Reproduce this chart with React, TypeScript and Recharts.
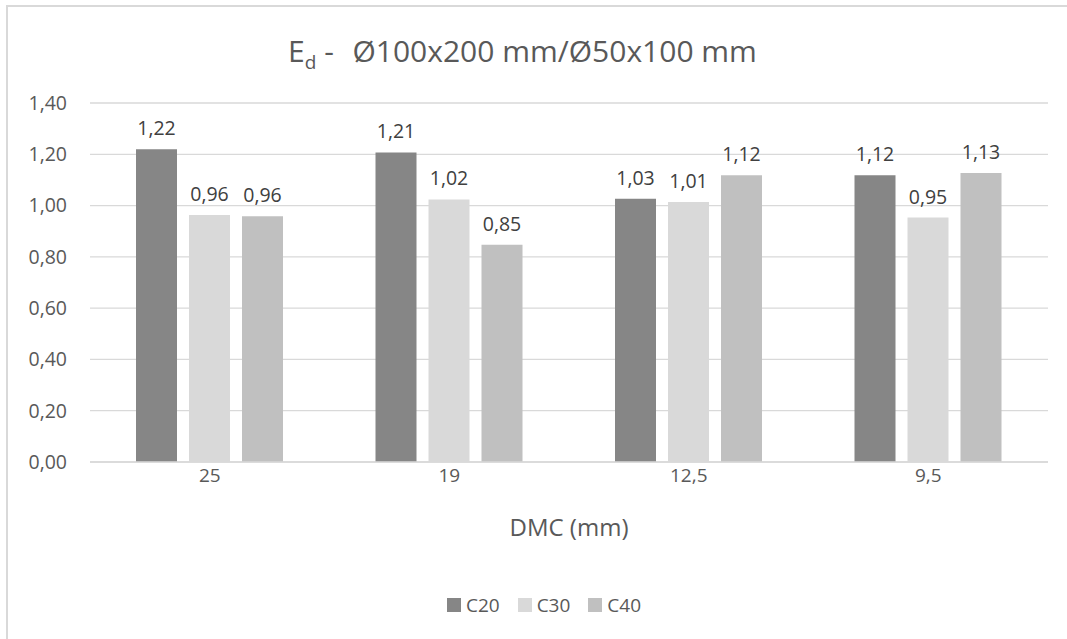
import { BarChart, Bar, XAxis, YAxis, CartesianGrid, Legend, LabelList } from 'recharts';

const categories = ['25', '19', '12,5', '9,5'];
const c20 = [1.22, 1.207, 1.027, 1.118];
const c30 = [0.963, 1.024, 1.014, 0.953];
const c40 = [0.958, 0.847, 1.118, 1.127];
const yTicks = [0, 0.2, 0.4, 0.6, 0.8, 1.0, 1.2, 1.4];

const series = [
  { key: 'C20', values: c20, color: '#868686' },
  { key: 'C30', values: c30, color: '#d9d9d9' },
  { key: 'C40', values: c40, color: '#c0c0c0' },
];

const data = categories.map((cat, i) => ({
  cat,
  C20: c20[i],
  C30: c30[i],
  C40: c40[i],
}));

const FONT = '"Open Sans", "Noto Sans", sans-serif';
const fmt = (v: any) => Number(v).toFixed(2).replace('.', ',');

const LegendContent = () => (
  <div
    style={{
      display: 'flex', justifyContent: 'center', paddingLeft: 40,
      fontFamily: FONT, fontSize: 19, lineHeight: '24px', color: '#595959',
    }}
  >
    {series.map((s) => (
      <div key={s.key} style={{ display: 'flex', alignItems: 'center', margin: '0 9px' }}>
        <span style={{ width: 14, height: 14, background: s.color, marginRight: 5, display: 'inline-block' }} />
        <span>{s.key}</span>
      </div>
    ))}
  </div>
);

export default function App() {
  return (
    <div style={{ position: 'fixed', left: 0, top: 0, width: 1067, height: 639, background: '#fff', overflow: 'hidden' }}>
      {/* chart frame: only the top and left edges are visible */}
      <div style={{ position: 'absolute', left: 6, top: 5, width: 1061, height: 2, background: '#d9d9d9' }} />
      <div style={{ position: 'absolute', left: 6, top: 5, width: 2, height: 634, background: '#d9d9d9' }} />
      <div
        style={{
          position: 'absolute', left: 0, top: 30, width: 1045, textAlign: 'center',
          fontFamily: FONT, fontSize: 30, color: '#595959', lineHeight: '42px',
        }}
      >
        E<sub style={{ fontSize: 19, verticalAlign: -7 }}>d</sub> -&nbsp;{' '}
        <span style={{ marginLeft: 3 }}>Ø100x200 mm/Ø50x100 mm</span>
      </div>
      <div style={{ position: 'absolute', left: 0, top: 0 }}>
        <BarChart
          width={1067}
          height={639}
          data={data}
          margin={{ top: 103, right: 19, bottom: 22, left: 0 }}
          barCategoryGap={46}
          barGap={12}
        >
          <CartesianGrid vertical={false} stroke="#d9d9d9" strokeWidth={1.3} />
          <XAxis
            dataKey="cat"
            axisLine={{ stroke: '#d9d9d9', strokeWidth: 1.3 }}
            tickLine={false}
            tickSize={0}
            tickMargin={7}
            height={131}
            tick={{ fill: '#595959', fontSize: 19, fontFamily: FONT }}
            label={{ value: 'DMC (mm)', position: 'insideTop', offset: 57, fill: '#595959', fontSize: 24, fontFamily: FONT }}
          />
          <YAxis
            domain={[0, 1.4]}
            ticks={yTicks}
            width={90}
            axisLine={false}
            tickLine={false}
            tickSize={0}
            tickMargin={23}
            tickFormatter={fmt}
            tick={{ fill: '#595959', fontSize: 19.5, fontFamily: FONT }}
          />
          <Legend verticalAlign="bottom" height={24} content={<LegendContent />} />
          {series.map((s) => (
            <Bar key={s.key} dataKey={s.key} fill={s.color} isAnimationActive={false}>
              <LabelList
                dataKey={s.key}
                position="top"
                offset={14}
                formatter={fmt}
                style={{ fill: '#404040', fontSize: 19.5, fontFamily: FONT }}
              />
            </Bar>
          ))}
        </BarChart>
      </div>
    </div>
  );
}
